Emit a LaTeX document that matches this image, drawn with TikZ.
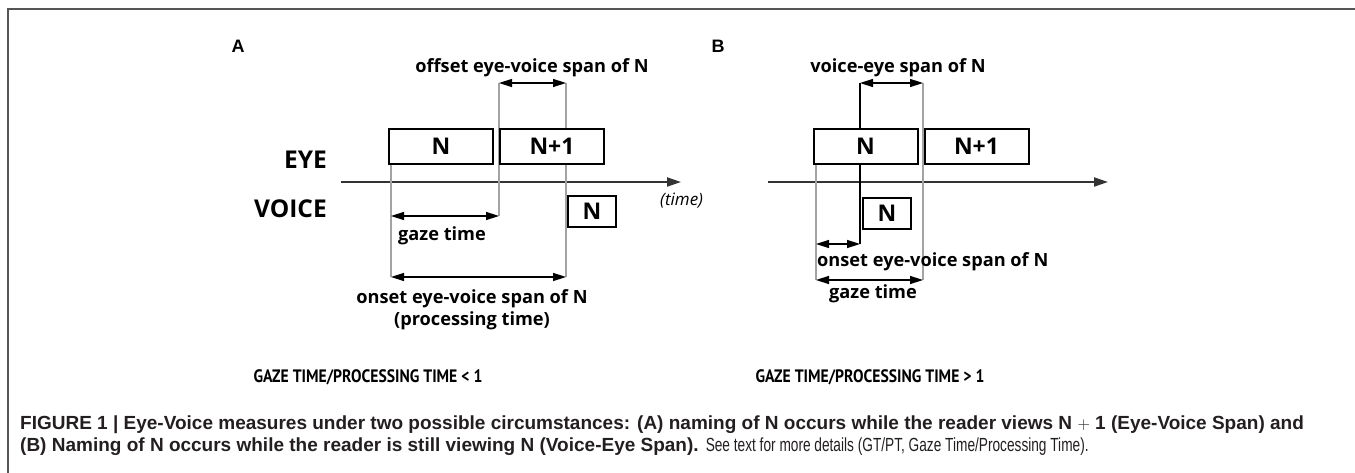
\documentclass[tikz,border=0pt]{standalone}
\usepackage{fontspec}
\setmainfont{Liberation Sans}
\newfontfamily\labfont{Open Sans}
\newfontfamily\ratiofont{PT Sans}
\usetikzlibrary{arrows.meta}
\definecolor{guidegray}{HTML}{A3A3A3}
\definecolor{axisgray}{HTML}{333333}
\definecolor{framegray}{HTML}{555555}
\definecolor{captext}{HTML}{231F20}
\newcommand{\narrow}[1]{\scalebox{0.72}[1]{#1}}

\begin{document}
\begin{tikzpicture}[x=1pt, y=-1pt,
  box/.style={draw=black, line width=2pt, fill=white, inner sep=0pt,
    minimum width=104pt, minimum height=35pt,
    font=\labfont\bfseries\fontsize{23}{23}\selectfont},
  vbox/.style={box, minimum width=48pt, minimum height=31pt},
  guide/.style={draw=guidegray, line width=1.2pt},
  axis/.style={draw=axisgray, line width=2pt, -{Triangle[length=14pt,width=9pt]}},
  span/.style={line width=1.5pt,
    {Triangle[length=13pt,width=8pt]}-{Triangle[length=13pt,width=8pt]}},
  lab/.style={inner sep=0pt, font=\labfont\bfseries\fontsize{18.2}{22}\selectfont},
  row/.style={inner sep=0pt, anchor=east, font=\labfont\bfseries\fontsize{24.5}{24}\selectfont},
  ratio/.style={inner sep=0pt, font=\ratiofont\bfseries\fontsize{18}{20}\selectfont},
  panel/.style={inner sep=0pt, font=\bfseries\fontsize{18}{18}\selectfont},
  captxt/.style={inner sep=0pt, anchor=west, text=captext, font=\fontsize{19}{22}\selectfont}]
\useasboundingbox (0,0) rectangle (1355,473);
% ----- frame -----
\coordinate (frTR) at (1355,9);
\coordinate (frTL) at (8,9);
\coordinate (frBL) at (8,473);
\draw[framegray, line width=1.6pt] (frTR) -- (frTL) -- (frBL);
% ----- panel A: eye ahead of voice -----
\node[panel] (pA) at (238,46) {A};
\node[row] (eye) at (327,160) {EYE};
\node[row] (voice) at (327,209) {VOICE};
\coordinate (aAx0) at (341,182);
\coordinate (aAx1) at (681,182);
\draw[axis] (aAx0) -- (aAx1);
\node[lab, anchor=north west, font=\labfont\itshape\fontsize{17}{20}\selectfont]
  (aTime) at (660,193) {(time)};
% guides
\coordinate (aG1t) at (391,164); \coordinate (aG1b) at (391,277);
\coordinate (aG2t) at (499,83);  \coordinate (aG2b) at (499,216);
\coordinate (aG3t) at (566,83);  \coordinate (aG3b) at (566,277);
\foreach \g in {aG1, aG2, aG3}
  \draw[guide] (\g t) -- (\g b);
\node[box] (aN) at (441,146.5) {N};
\node[box] (aN1) at (552,146.5) {N+1};
\node[vbox] (aV) at (592,211.5) {N};
% spans
\draw[span] (aG2t) -- (aG3t);
\draw[span] (aG1t |- aG2b) -- (aG2b);
\draw[span] (aG1b) -- (aG3b);
\node[lab] (aOff) at (532,68) {offset eye-voice span of N};
\node[lab] (aGaze) at (442,236) {gaze time};
\node[lab, align=center] (aOn) at (472,310)
  {onset eye-voice span of N\\[0pt](processing time)};
\node[ratio] (aRatio) at (368,377) {\scalebox{0.87}[1]{GAZE TIME/PROCESSING TIME < 1}};
% ----- panel B: voice starts while eye is on N -----
\node[panel] (pB) at (718,46) {B};
\coordinate (bAx0) at (768,182);
\coordinate (bAx1) at (1108,182);
\draw[axis] (bAx0) -- (bAx1);
\coordinate (bG1t) at (816,164); \coordinate (bG1b) at (816,280);
\coordinate (bG2t) at (923,83);  \coordinate (bG2b) at (923,280);
\coordinate (bVt) at (860,83);   \coordinate (bVb) at (860,244);
\foreach \g in {bG1, bG2}
  \draw[guide] (\g t) -- (\g b);
\node[box] (bN) at (865.5,146.5) {N};
\node[box] (bN1) at (976.5,146.5) {N+1};
\node[vbox] (bV) at (887,213.5) {N};
\draw[line width=1.5pt] (bVt) -- (bVt |- bN.north);
\draw[line width=1.5pt] (bVt |- bN.south) -- (bVb);
% spans
\draw[span] (bVt) -- (bG2t);
\draw[span] (bG1t |- bVb) -- (bVb);
\draw[span] (bG1b) -- (bG2b);
\node[lab] (bVE) at (898,68) {voice-eye span of N};
\node[lab, anchor=west] (bOn) at (817,262) {onset eye-voice span of N};
\node[lab] (bGaze) at (873,294) {gaze time};
\node[ratio] (bRatio) at (870,377) {\scalebox{0.87}[1]{GAZE TIME/PROCESSING TIME > 1}};
% ----- caption -----
\node[captxt] (cap1) at (20,425) {\bfseries FIGURE 1 | Eye-Voice measures under two possible
  circumstances: (A) naming of N occurs while the reader views N $+$ 1 (Eye-Voice Span) and};
\node[captxt] (cap2) at (20,447) {{\bfseries (B) Naming of N occurs while the reader is still
  viewing N (Voice-Eye Span).} \narrow{See text for more details (GT/PT, Gaze Time/Processing Time).}};
\end{tikzpicture}
\end{document}
